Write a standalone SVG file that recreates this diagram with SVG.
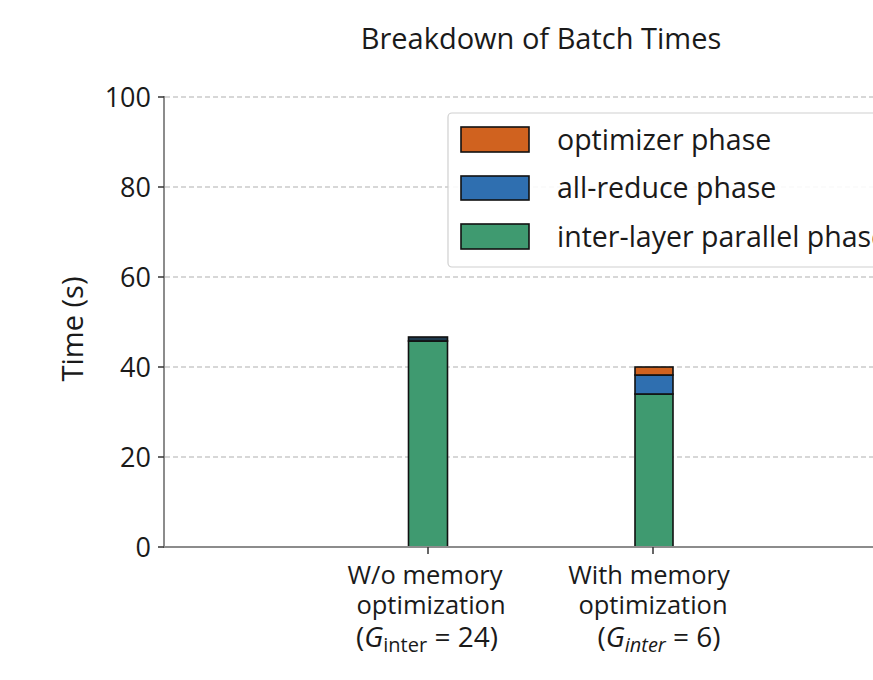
<svg xmlns="http://www.w3.org/2000/svg" width="873" height="680" viewBox="0 0 873 680">
<style>
text{font-family:"Open Sans",Lato,"Liberation Sans",sans-serif;fill:#1a1a1a}
.grid{stroke:#b0b0b0;stroke-width:1.2;stroke-dasharray:5 3}
.axis{stroke:#8c8c8c;stroke-width:2;fill:none}
.tick{font-size:27px;text-anchor:end}
.xl{font-size:25.5px;text-anchor:middle}
.xm{font-size:28px}
.bar{stroke:#111;stroke-width:1.6}
.leg{font-size:28.5px}
</style>
<rect width="873" height="680" fill="#fff"/>
<text x="541" y="49" font-size="29" text-anchor="middle">Breakdown of Batch Times</text>
<g id="grid">
<line class="grid" x1="165" y1="97" x2="873" y2="97"/>
<line class="grid" x1="165" y1="187" x2="873" y2="187"/>
<line class="grid" x1="165" y1="277" x2="873" y2="277"/>
<line class="grid" x1="165" y1="367" x2="873" y2="367"/>
<line class="grid" x1="165" y1="457" x2="873" y2="457"/>
</g>
<g id="bar1">
<rect class="bar" x="408.5" y="341" width="39" height="206" fill="#3f9a70"/>
<rect class="bar" x="408.5" y="337" width="39" height="4" fill="#1f3a4d"/>
</g>
<g id="bar2">
<rect class="bar" x="635" y="394" width="38" height="153" fill="#3f9a70"/>
<rect class="bar" x="635" y="375" width="38" height="19" fill="#2f6fb0"/>
<rect class="bar" x="635" y="367" width="38" height="8" fill="#d0621f"/>
</g>
<g id="axes">
<line class="axis" x1="164" y1="96" x2="164" y2="548"/>
<line class="axis" x1="163" y1="547" x2="873" y2="547"/>
<g stroke="#333" stroke-width="1.5">
<line x1="158" y1="97" x2="164" y2="97"/>
<line x1="158" y1="187" x2="164" y2="187"/>
<line x1="158" y1="277" x2="164" y2="277"/>
<line x1="158" y1="367" x2="164" y2="367"/>
<line x1="158" y1="457" x2="164" y2="457"/>
<line x1="158" y1="547" x2="164" y2="547"/>
<line x1="428" y1="547" x2="428" y2="554"/>
<line x1="653" y1="547" x2="653" y2="554"/>
</g>
</g>
<g id="yticks">
<text class="tick" x="151" y="107">100</text>
<text class="tick" x="151" y="197">80</text>
<text class="tick" x="151" y="287">60</text>
<text class="tick" x="151" y="377">40</text>
<text class="tick" x="151" y="467">20</text>
<text class="tick" x="151" y="557">0</text>
</g>
<text transform="translate(83,329) rotate(-90)" font-size="29" text-anchor="middle">Time (s)</text>
<g id="xlabels">
<text class="xl" x="425" y="584">W/o memory<tspan x="431" dy="30">optimization</tspan><tspan class="xm" x="427" dy="33">(<tspan font-style="italic">G</tspan><tspan font-size="20" dy="5">inter</tspan><tspan dy="-5"> = 24)</tspan></tspan></text>
<text class="xl" x="649" y="584">With memory<tspan x="653" dy="30">optimization</tspan><tspan class="xm" x="659" dy="33">(<tspan font-style="italic">G</tspan><tspan font-size="20" font-style="italic" dy="5">inter</tspan><tspan dy="-5"> = 6)</tspan></tspan></text>
</g>
<g id="legend">
<rect x="448" y="113" width="440" height="154" rx="4" fill="#fff" fill-opacity="0.9" stroke="#d0d0d0" stroke-width="1.2"/>
<rect class="bar" x="461" y="127" width="68" height="25" fill="#d0621f"/>
<rect class="bar" x="461" y="176" width="68" height="24" fill="#2f6fb0"/>
<rect class="bar" x="461" y="224" width="68" height="25" fill="#3f9a70"/>
<text class="leg" x="557" y="150">optimizer phase</text>
<text class="leg" x="557" y="198">all-reduce phase</text>
<text class="leg" x="557" y="247">inter-layer parallel phase</text>
</g>
</svg>
